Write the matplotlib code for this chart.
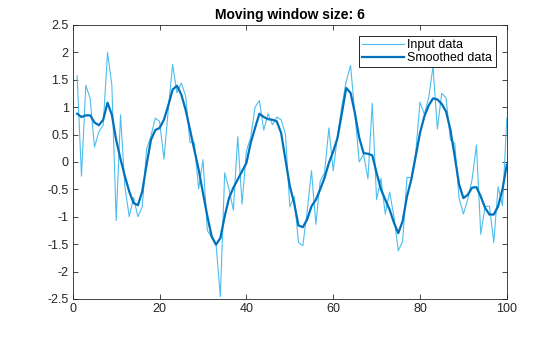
import numpy as np
import matplotlib
matplotlib.use("Agg")
import matplotlib.pyplot as plt

plt.rcParams['font.family'] = ['Liberation Sans', 'DejaVu Sans']
plt.rcParams['axes.unicode_minus'] = False

window = 6
x = np.arange(1, 101)

# noisy input signal
input_data = [
    1.57, -0.26, 1.40, 1.16, 0.27, 0.55, 0.67, 2.00, 1.40, -1.07,
    0.86, -0.45, -1.00, -0.65, -1.00, -0.82, 0.23, 0.47, 0.80, 0.74,
    0.05, 0.95, 1.78, 1.26, 1.44, 1.20, 0.36, 0.35, -0.49, 0.04,
    -1.25, -1.38, -1.50, -2.46, -0.20, -0.50, -0.88, 0.46, -0.77, 0.20,
    0.45, 1.00, 1.12, 0.58, 0.88, 0.68, 0.82, 0.77, 0.50, -0.82,
    -0.63, -1.47, -1.53, -0.90, -0.16, -1.14, -0.35, -0.20, 0.62, -0.16,
    0.48, 1.02, 1.47, 1.76, 0.87, 0.00, 0.14, -0.31, 1.07, -0.69,
    -0.30, -0.95, -0.55, -1.00, -1.62, -1.45, -0.28, -0.29, 0.16, 1.09,
    0.87, 1.17, 1.74, 0.60, 1.25, 1.17, 0.40, 0.34, -0.66, -0.95,
    -0.68, -0.32, 0.31, -1.32, -0.81, -0.81, -1.47, -0.45, -0.80, 0.80,
]

# moving-window result
smoothed_data = [
    0.88, 0.82, 0.85, 0.85, 0.72, 0.67, 0.77, 1.08, 0.86, 0.40,
    0.05, -0.26, -0.54, -0.75, -0.79, -0.54, -0.05, 0.40, 0.58, 0.62,
    0.77, 1.03, 1.32, 1.39, 1.23, 0.95, 0.59, 0.22, -0.14, -0.57,
    -0.99, -1.36, -1.51, -1.39, -0.99, -0.66, -0.47, -0.32, -0.17, -0.02,
    0.35, 0.62, 0.88, 0.82, 0.78, 0.77, 0.74, 0.53, 0.04, -0.44,
    -0.75, -1.16, -1.19, -1.05, -0.81, -0.69, -0.50, -0.29, -0.02, 0.19,
    0.44, 0.89, 1.35, 1.26, 0.89, 0.44, 0.16, 0.15, 0.12, -0.20,
    -0.50, -0.69, -0.87, -1.11, -1.30, -1.08, -0.63, -0.32, 0.10, 0.53,
    0.83, 1.03, 1.16, 1.14, 1.06, 0.92, 0.59, 0.10, -0.41, -0.66,
    -0.60, -0.47, -0.46, -0.63, -0.84, -0.96, -0.96, -0.81, -0.50, -0.05,
]

fig = plt.figure(figsize=(5.6, 3.37), dpi=100)
ax = fig.add_axes([0.130, 0.113, 0.775, 0.813])

ax.plot(x, input_data, color='#4DBEEE', linewidth=0.8, label='Input data')
ax.plot(x, smoothed_data, color='#0072BD', linewidth=1.6, label='Smoothed data')

ax.set_xlim(0, 100)
ax.set_ylim(-2.5, 2.5)
ax.set_xticks(np.arange(0, 101, 20))
ax.set_yticks(np.arange(-2.5, 2.51, 0.5))
ax.set_yticklabels([('%g' % v) for v in np.arange(-2.5, 2.51, 0.5)])

ax.tick_params(direction='in', top=True, right=True, length=3.5, width=0.6,
               labelsize=9, colors='#262626', pad=3)
for s in ax.spines.values():
    s.set_linewidth(0.6)
    s.set_color('#262626')

ax.set_title('Moving window size: %d' % window, fontsize=10, fontweight='bold',
             color='#000000', pad=4)

leg = ax.legend(loc='upper right', fontsize=9, fancybox=False, framealpha=1,
                edgecolor='#000000', borderpad=0.25, handlelength=3.3,
                handletextpad=0.3, labelspacing=0.05, borderaxespad=0.9)
leg.get_frame().set_linewidth(0.6)

fig.savefig('out.png', dpi=100)
